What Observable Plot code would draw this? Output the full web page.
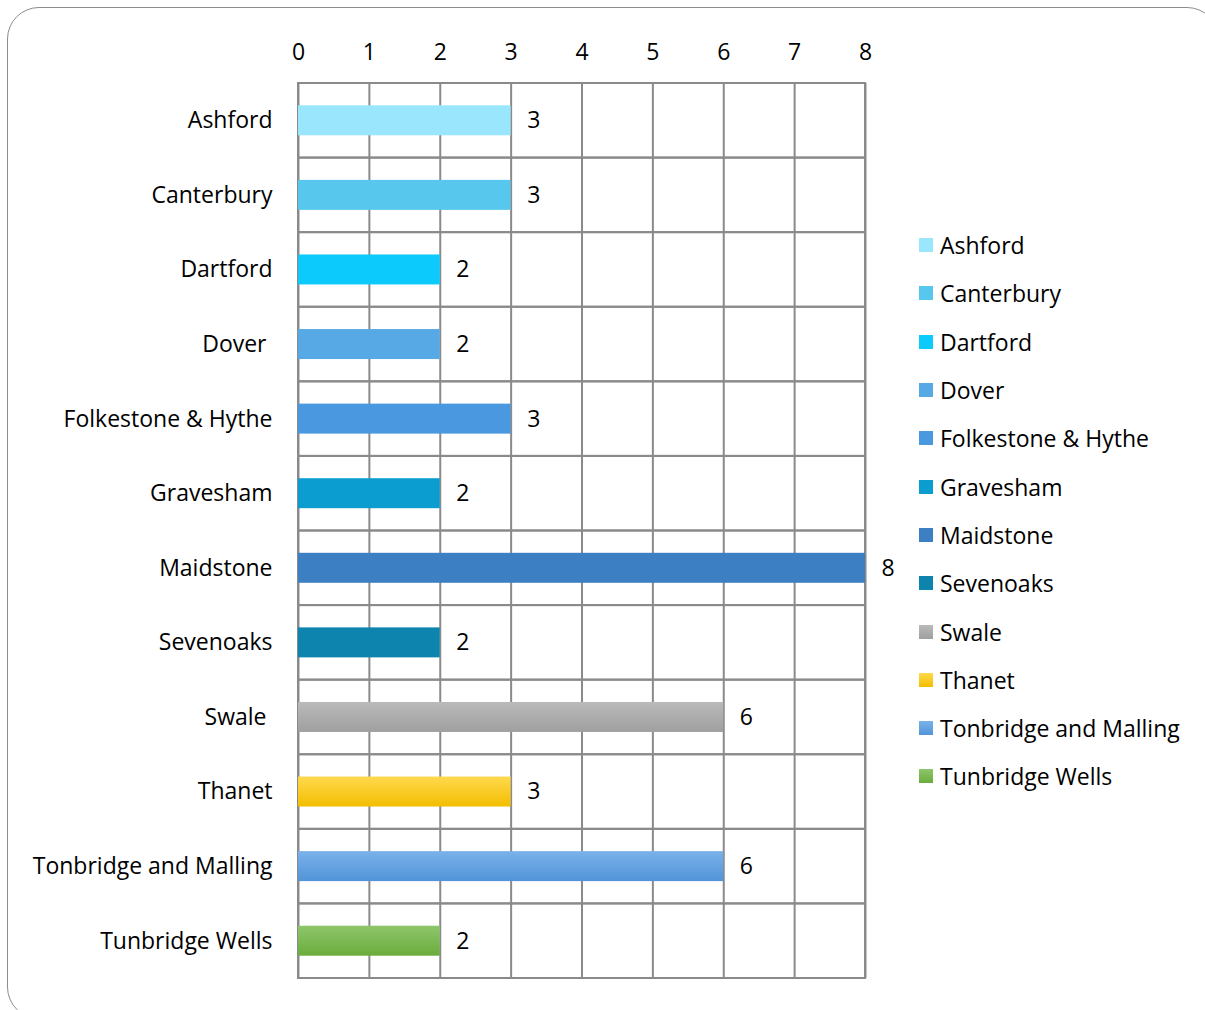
<!DOCTYPE html>
<html>
<head>
<meta charset="utf-8">
<script src="https://cdn.jsdelivr.net/npm/d3@7"></script>
<script src="https://cdn.jsdelivr.net/npm/@observablehq/plot@0.6"></script>
<style>
  html, body { margin: 0; padding: 0; background: #fff; }
  body { width: 1205px; height: 1010px; position: relative; overflow: hidden; font-family: "Open Sans", Lato, sans-serif; }
  #frame { position: absolute; left: 7px; top: 7px; width: 1212px; height: 1012px; border: 1.5px solid #8c8c8c; border-radius: 32px; box-sizing: border-box; }
  #chart { position: absolute; left: 0; top: 0; }
  #chart svg text { white-space: pre; }
  #legend { position: absolute; left: 919px; top: 221px; font-size: 23px; color: #000; }
  .row { height: 48.3px; display: flex; align-items: center; white-space: nowrap; }
  .sw { width: 14px; height: 14px; margin-right: 7px; flex: none; }
</style>
</head>
<body>
<div id="frame"></div>
<div id="chart"></div>
<div id="legend"></div>
<script>
const districts = ["Ashford", "Canterbury", "Dartford", "Dover ", "Folkestone & Hythe", "Gravesham", "Maidstone", "Sevenoaks", "Swale ", "Thanet", "Tonbridge and Malling", "Tunbridge Wells"];
const counts = [3, 3, 2, 2, 3, 2, 8, 2, 6, 3, 6, 2];
const topColors = ["#9ae6fd", "#57c7ed", "#0dcafc", "#57a9e6", "#4a98df", "#0c9dd0", "#3c80c3", "#0d84ad", "#bababa", "#ffd94d", "#7ab2ea", "#8ec66c"];
const bottomColors = ["#9ae6fd", "#57c7ed", "#0dcafc", "#57a9e6", "#4a98df", "#0c9dd0", "#3c80c3", "#0d84ad", "#9f9f9f", "#f3be00", "#5194d8", "#6aac3c"];
const xTicks = [0, 1, 2, 3, 4, 5, 6, 7, 8];

const data = districts.map((name, i) => ({name, value: counts[i], i}));

const chart = Plot.plot({
  width: 1205,
  height: 1010,
  marginLeft: 298,
  marginRight: 340,
  marginTop: 83,
  marginBottom: 32,
  style: {fontFamily: "'Open Sans', Lato, sans-serif", fontSize: "23px", color: "#000", background: "transparent"},
  x: {domain: [0, 8], ticks: xTicks, label: null},
  y: {domain: districts, padding: 0, round: false, label: null},
  marks: [
    Plot.gridX(xTicks, {stroke: "#8a8a8a", strokeOpacity: 1, strokeWidth: 2}),
    Plot.barX(districts, {x1: 0, x2: 8, y: d => d, fill: "none", stroke: "#8a8a8a", strokeWidth: 2}),
    Plot.barX(data, {x: "value", y: "name", fill: d => `url(#grad${d.i})`, insetTop: 22.3, insetBottom: 22.3}),
    Plot.text(data, {x: "value", y: "name", text: d => String(d.value), textAnchor: "start", dx: 16, fill: "#000"}),
    Plot.axisX({anchor: "top", ticks: xTicks, tickSize: 0, tickPadding: 24, fill: "#000", label: null}),
    Plot.axisY({anchor: "left", tickSize: 0, tickPadding: 26, fill: "#000", label: null})
  ]
});

// gradient definitions for bar fills
const ns = "http://www.w3.org/2000/svg";
const defs = document.createElementNS(ns, "defs");
districts.forEach((_, i) => {
  const g = document.createElementNS(ns, "linearGradient");
  g.setAttribute("id", "grad" + i);
  g.setAttribute("x1", "0"); g.setAttribute("y1", "0");
  g.setAttribute("x2", "0"); g.setAttribute("y2", "1");
  [[0, topColors[i]], [1, bottomColors[i]]].forEach(([o, c]) => {
    const s = document.createElementNS(ns, "stop");
    s.setAttribute("offset", o);
    s.setAttribute("stop-color", c);
    g.appendChild(s);
  });
  defs.appendChild(g);
});
chart.insertBefore(defs, chart.firstChild);
document.getElementById("chart").appendChild(chart);

const legend = document.getElementById("legend");
districts.forEach((name, i) => {
  const row = document.createElement("div");
  row.className = "row";
  const sw = document.createElement("div");
  sw.className = "sw";
  sw.style.background = `linear-gradient(${topColors[i]}, ${bottomColors[i]})`;
  const t = document.createElement("span");
  t.textContent = name;
  row.appendChild(sw);
  row.appendChild(t);
  legend.appendChild(row);
});
</script>
</body>
</html>
